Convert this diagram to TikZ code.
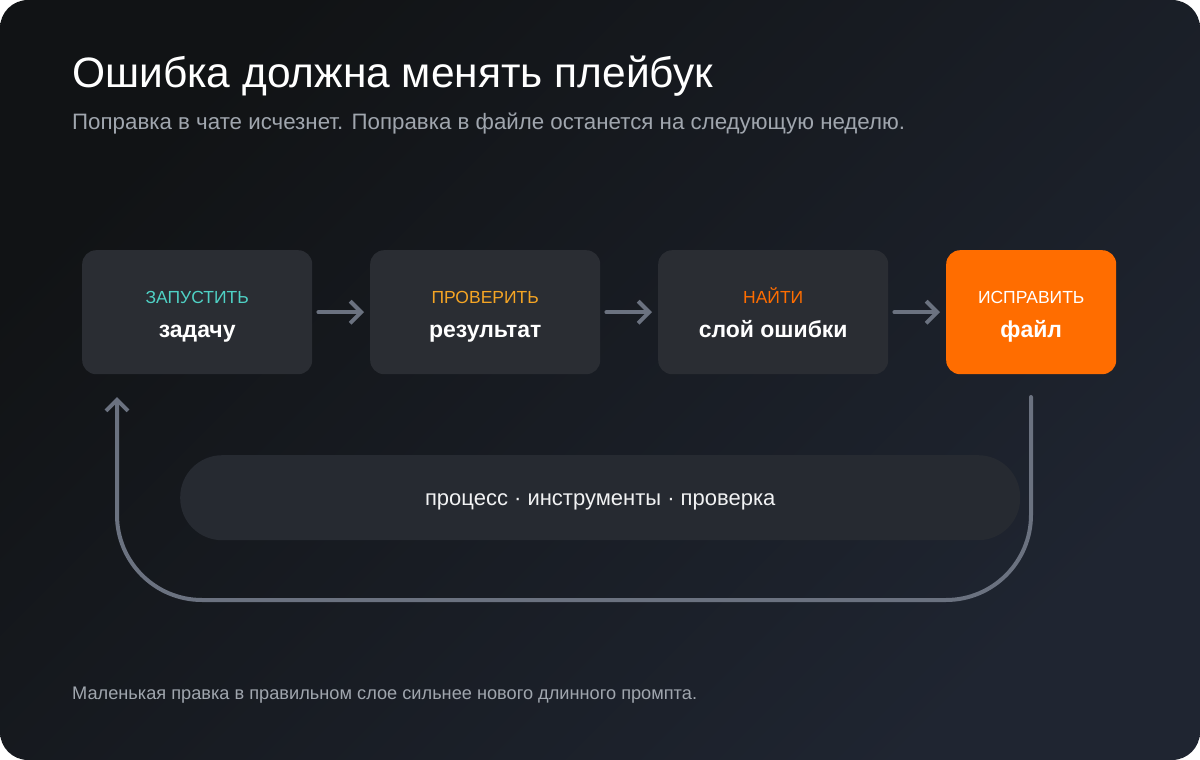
\documentclass[tikz,border=0pt]{standalone}
\usepackage{fontspec}
\setmainfont{Liberation Sans}
\usetikzlibrary{arrows.meta}
\definecolor{bgA}{HTML}{111315}
\definecolor{bgB}{HTML}{1F2531}
\definecolor{boxc}{HTML}{2A2D33}
\definecolor{pillc}{HTML}{262A31}
\definecolor{arr}{HTML}{6B7280}
\definecolor{teal}{HTML}{4FD1C5}
\definecolor{amber}{HTML}{F5A524}
\definecolor{orng}{HTML}{FF6D00}
\definecolor{sub}{HTML}{A0A6AE}
\begin{document}
\begin{tikzpicture}[x=1pt,y=-1pt,
  box/.style={rounded corners=14pt,fill=boxc,minimum width=230pt,minimum height=124pt,inner sep=0pt,anchor=north west},
  tag/.style={font=\fontsize{17.5}{20}\selectfont},
  main/.style={font=\bfseries\fontsize{23}{26}\selectfont,text=white},
  flow/.style={draw=arr,line width=4pt,line cap=round,-{Straight Barb[length=11pt,width=22pt,line width=4pt]}}]
\fill[white] (0,0) rectangle (1200,760);
\shade[rounded corners=28pt,left color=bgA,right color=bgB,shading angle=45] (0,0) rectangle (1200,760);
\node[anchor=base west,text=white,font=\fontsize{42.5}{48}\selectfont,inner sep=0pt] (title) at (72,88) {Ошибка должна менять плейбук};
\node[anchor=base west,text=sub,font=\fontsize{22.3}{26}\selectfont,inner sep=0pt] (subt) at (72,129) {Поправка в чате исчезнет. Поправка в файле останется на следующую неделю.};
\node[box] (b1) at (82,250) {};
\node[box] (b2) at (370,250) {};
\node[box] (b3) at (658,250) {};
\node[box,fill=orng,minimum width=170pt] (b4) at (946,250) {};
\foreach \b/\t/\c/\m in {b1/ЗАПУСТИТЬ/teal/задачу,b2/ПРОВЕРИТЬ/amber/результат,b3/НАЙТИ/orng/слой ошибки,b4/ИСПРАВИТЬ/white/файл}{
  \node[tag,text=\c,anchor=base,inner sep=0pt] (\b t) at ([yshift=9pt]\b.center) {\t};
  \node[main,anchor=base,inner sep=0pt] (\b m) at ([yshift=-25pt]\b.center) {\m};
}
\draw[flow] ([xshift=6pt]b1.east) -- ([xshift=-6pt]b2.west);
\draw[flow] ([xshift=6pt]b2.east) -- ([xshift=-6pt]b3.west);
\draw[flow] ([xshift=6pt]b3.east) -- ([xshift=-6pt]b4.west);
\node[rounded corners=42pt,fill=pillc,minimum width=840pt,minimum height=85pt,anchor=north west,inner sep=0pt] (pill) at (180,455) {};
\node[text=white!85!sub,font=\fontsize{22}{26}\selectfont] (pt) at ([yshift=-4pt]pill.center) {процесс · инструменты · проверка};
\coordinate (ls) at (1031,397);
\coordinate (le) at (117,397);
\draw[flow,rounded corners=85pt] (ls) -- (1031,600) -- (117,600) -- (le);
\node[anchor=base west,text=sub,font=\fontsize{18.2}{20}\selectfont,inner sep=0pt] (foot) at (72,699) {Маленькая правка в правильном слое сильнее нового длинного промпта.};
\end{tikzpicture}
\end{document}
